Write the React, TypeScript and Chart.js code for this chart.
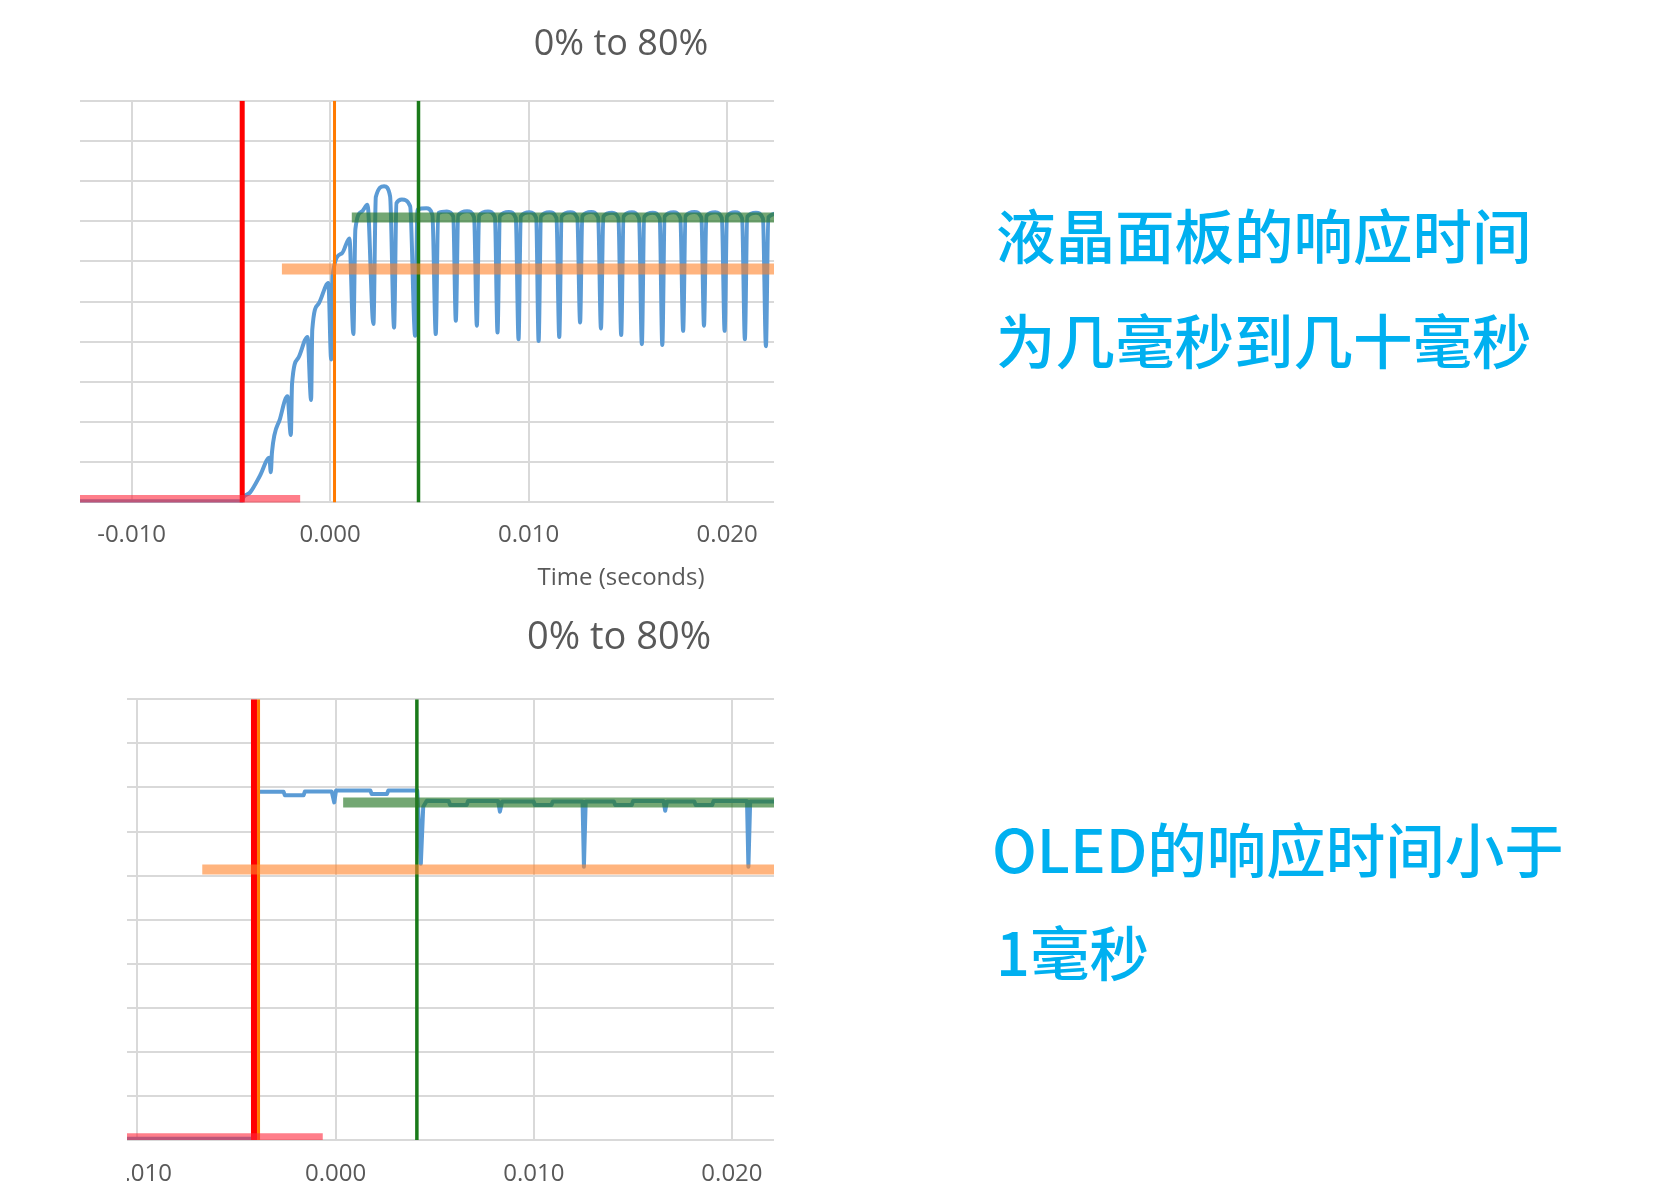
import { useEffect, useRef } from "react";
import { Chart, registerables } from "chart.js";

Chart.register(...registerables);

// x axis ticks, in seconds
const timeTicks = [-0.01, 0, 0.01, 0.02];
// horizontal grid, in % of full level
const levelTicks = [0, 10, 20, 30, 40, 50, 60, 70, 80, 90, 100];

// LCD trace: [time ms, level %]
const lcdTrace: [number, number][] = [
  [-12.6, 0.3], [-4.45, 0.3], [-4.37, 1.3], [-4.03, 2.5], [-3.53, 6.7], [-3.06, 11.1],
  [-2.99, 7.5], [-2.93, 12.5], [-2.52, 20.9], [-2.15, 26.4], [-1.98, 16.8], [-1.92, 29.5],
  [-1.6, 36], [-1.14, 41.2], [-0.96, 25.5], [-0.9, 43], [-0.59, 49.4], [-0.09, 54.6],
  [0.05, 35.6], [0.12, 56.5], [0.59, 62], [0.97, 65.7], [1.17, 41.9], [1.27, 68],
  [1.6, 72.4], [1.88, 74.1], [2.18, 44.4], [2.3, 76], [2.72, 78.7], [3.02, 76.2],
  [3.22, 43.5], [3.34, 74.5], [3.61, 75.4], [4.03, 73.7], [4.28, 41.5], [4.4, 72.9],
  [4.85, 73.2], [5.15, 71.6], [5.32, 41.9], [5.44, 72], [5.88, 72.4], [6.2, 71.2],
  [6.33, 45.2], [6.45, 71.5], [6.9, 72.5], [7.25, 71], [7.39, 44.0], [7.5, 71.4],
  [7.95, 72.4], [8.3, 71], [8.43, 42.3], [8.55, 71.3], [9.0, 72.3], [9.35, 70.8],
  [9.49, 40.6], [9.6, 71.2], [10.05, 72.2], [10.38, 70.8], [10.5, 40.2], [10.62, 71.2],
  [11.05, 72.2], [11.4, 70.8], [11.54, 41.2], [11.66, 71.2], [12.1, 72.2], [12.45, 70.8],
  [12.59, 44.8], [12.7, 71.3], [13.15, 72.3], [13.5, 70.9], [13.64, 43.3], [13.76, 71.2],
  [14.2, 72.1], [14.52, 70.8], [14.66, 41.7], [14.78, 71.2], [15.2, 72.2], [15.56, 70.7],
  [15.7, 39.4], [15.82, 71.1], [16.25, 72.1], [16.6, 70.7], [16.73, 39.2], [16.85, 71.2],
  [17.3, 72.2], [17.64, 70.8], [17.78, 42.7], [17.9, 71.3], [18.35, 72.3], [18.7, 70.9],
  [18.83, 44.0], [18.95, 71.3], [19.4, 72.2], [19.73, 70.8], [19.87, 42.7], [19.99, 71.2],
  [20.4, 72.2], [20.75, 70.7], [20.89, 40.6], [21.01, 71.1], [21.45, 72.1], [21.8, 70.7],
  [21.95, 38.9], [22.07, 71.0], [22.6, 72.0],
];

// OLED trace: [time ms, level %]
const oledTrace: [number, number][] = [
  [-12.9, 0.3], [-4.1, 0.3], [-4.02, 79.0], [-2.63, 79.0], [-2.56, 78.2], [-1.62, 78.2],
  [-1.55, 79.1], [-0.2, 79.1], [-0.07, 76.6], [0.02, 79.3], [1.75, 79.3], [1.82, 78.5],
  [2.59, 78.5], [2.66, 79.3], [4.12, 79.3], [4.3, 62.7], [4.42, 75.6], [4.6, 77.0],
  [5.71, 76.9], [5.78, 76.0], [6.61, 76.0], [6.68, 76.9], [8.2, 76.9], [8.29, 74.5],
  [8.4, 76.8], [9.99, 76.8], [10.06, 76.0], [10.89, 76.0], [10.96, 76.8], [12.46, 76.8],
  [12.53, 62.0], [12.62, 76.8], [14.04, 76.8], [14.11, 76.0], [14.94, 76.0], [15.01, 76.9],
  [16.55, 76.9], [16.63, 74.7], [16.72, 76.8], [18.1, 76.8], [18.17, 76.0], [19.0, 76.0],
  [19.07, 76.9], [20.76, 76.9], [20.83, 62.0], [20.92, 76.8], [22.5, 76.8],
];

// vertical markers (ms): start, 10 %, 90 %
const lcdMarkerTimes = [-4.43, 0.22, 4.45];
const oledMarkerTimes = [-4.12, -3.89, 4.1];

// horizontal bands: level %, start ms, end ms
const lcdBandLevels = [0.6, 58.1, 70.9];
const lcdBandStart = [-12.6, -2.43, 1.09];
const lcdBandEnd = [-1.51, 45, 45];
const oledBandLevels = [0.3, 61.4, 76.6];
const oledBandStart = [-12.9, -6.73, 0.38];
const oledBandEnd = [-0.65, 45, 45];

const captionLines = ["液晶面板的响应时间", "为几毫秒到几十毫秒", "OLED的响应时间小于", "1毫秒"];

const FONT = "'Open Sans', sans-serif";
const GREY = "#595959";
const GRID = "#d9d9d9";
const markerColors = ["#ff0000", "#ff7a00", "#1a7a1a"];
const bandColors = ["rgba(255, 40, 60, 0.6)", "rgba(255, 130, 40, 0.6)", "rgba(40, 120, 40, 0.65)"];

interface PanelProps {
  trace: [number, number][];
  smooth: boolean;
  markerTimes: number[];
  markerWidths: number[];
  bandLevels: number[];
  bandStart: number[];
  bandEnd: number[];
  bandWidths: number[];
  xMin: number;
  xMax: number;
  titleSize: number;
  titlePadding: { top: number; bottom: number };
  tickPadding: number;
  axisTitle?: string;
}

function ResponsePanel(props: PanelProps) {
  const canvasRef = useRef<HTMLCanvasElement | null>(null);
  const chartRef = useRef<Chart | null>(null);

  useEffect(() => {
    const canvas = canvasRef.current;
    if (!canvas) {
      return;
    }

    const bands = props.bandLevels.map((level, i) => ({
      data: [
        { x: props.bandStart[i] / 1000, y: level },
        { x: props.bandEnd[i] / 1000, y: level },
      ],
      borderColor: bandColors[i],
      borderWidth: props.bandWidths[i],
      order: 0,
    }));

    const markers = props.markerTimes.map((t, i) => ({
      data: [
        { x: t / 1000, y: 0 },
        { x: t / 1000, y: 100 },
      ],
      borderColor: markerColors[i],
      borderWidth: props.markerWidths[i],
      order: 1,
    }));

    const trace = {
      data: props.trace.map(([t, v]) => ({ x: t / 1000, y: v })),
      borderColor: "#5b9bd5",
      borderWidth: 4,
      borderJoinStyle: "round" as const,
      cubicInterpolationMode: props.smooth ? ("monotone" as const) : ("default" as const),
      order: 2,
    };

    chartRef.current?.destroy();
    chartRef.current = new Chart(canvas, {
      type: "scatter",
      data: {
        datasets: [...bands, ...markers, trace].map((d) => ({
          showLine: true,
          pointRadius: 0,
          pointHoverRadius: 0,
          fill: false,
          tension: 0,
          ...d,
        })),
      },
      options: {
        animation: false,
        responsive: true,
        maintainAspectRatio: false,
        events: [],
        layout: { padding: 0 },
        plugins: {
          legend: { display: false },
          tooltip: { enabled: false },
          title: {
            display: true,
            text: "0% to 80%",
            color: GREY,
            font: { family: FONT, size: props.titleSize, weight: "normal" },
            padding: props.titlePadding,
          },
        },
        scales: {
          x: {
            type: "linear",
            min: props.xMin,
            max: props.xMax,
            afterBuildTicks: (scale) => {
              scale.ticks = timeTicks.map((v) => ({ value: v }));
            },
            afterFit: (scale) => {
              scale.paddingLeft = 0;
              scale.paddingRight = 0;
            },
            grid: { color: GRID, lineWidth: 2, drawTicks: false },
            border: { display: false },
            ticks: {
              color: GREY,
              padding: props.tickPadding,
              maxRotation: 0,
              autoSkip: false,
              font: { family: FONT, size: 24 },
              callback: (v) => Number(v).toFixed(3),
            },
            title: {
              display: !!props.axisTitle,
              text: props.axisTitle ?? "",
              color: GREY,
              font: { family: FONT, size: 24 },
              padding: { top: -3, bottom: 5 },
            },
          },
          y: {
            type: "linear",
            min: 0,
            max: 100,
            afterBuildTicks: (scale) => {
              scale.ticks = levelTicks.map((v) => ({ value: v }));
            },
            grid: { color: GRID, lineWidth: 2, drawTicks: false },
            border: { display: false },
            ticks: { display: false },
          },
        },
      },
    });

    return () => {
      chartRef.current?.destroy();
      chartRef.current = null;
    };
  }, []);

  return <canvas ref={canvasRef} />;
}

const captionStyle = {
  position: "absolute" as const,
  left: 996,
  fontFamily: "'Noto Sans CJK SC', sans-serif",
  fontSize: 59.5,
  fontWeight: 500,
  lineHeight: 1,
  color: "#00b0f0",
  whiteSpace: "nowrap" as const,
};

export default function App() {
  return (
    <div
      style={{
        position: "absolute",
        left: 0,
        top: 0,
        width: 1662,
        height: 1199,
        overflow: "hidden",
        background: "#ffffff",
      }}
    >
      <div style={{ position: "absolute", left: 0, top: 0, width: 774, height: 600, overflow: "hidden" }}>
        <div style={{ position: "absolute", left: 80, top: 0, width: 1082, height: 598 }}>
          <ResponsePanel
            trace={lcdTrace}
            smooth={true}
            markerTimes={lcdMarkerTimes}
            markerWidths={[5, 3, 3.5]}
            bandLevels={lcdBandLevels}
            bandStart={lcdBandStart}
            bandEnd={lcdBandEnd}
            bandWidths={[10, 11, 10]}
            xMin={-0.0126}
            xMax={0.0419}
            titleSize={36}
            titlePadding={{ top: 23, bottom: 34.5 }}
            tickPadding={18}
            axisTitle="Time (seconds)"
          />
        </div>
      </div>

      <div style={{ position: "absolute", left: 127, top: 600, width: 647, height: 599, overflow: "hidden" }}>
        <div style={{ position: "absolute", left: -47, top: 0, width: 1078, height: 608 }}>
          <ResponsePanel
            trace={oledTrace}
            smooth={false}
            markerTimes={oledMarkerTimes}
            markerWidths={[6, 3, 3.5]}
            bandLevels={oledBandLevels}
            bandStart={oledBandStart}
            bandEnd={oledBandEnd}
            bandWidths={[11, 10, 10]}
            xMin={-0.0129}
            xMax={0.0415}
            titleSize={38}
            titlePadding={{ top: 15.2, bottom: 38.5 }}
            tickPadding={19.6}
          />
        </div>
      </div>

      <div style={{ ...captionStyle, top: 204 }}>{captionLines[0]}</div>
      <div style={{ ...captionStyle, top: 309 }}>{captionLines[1]}</div>
      <div style={{ ...captionStyle, top: 818, left: 992 }}>{captionLines[2]}</div>
      <div style={{ ...captionStyle, top: 921 }}>{captionLines[3]}</div>
    </div>
  );
}
